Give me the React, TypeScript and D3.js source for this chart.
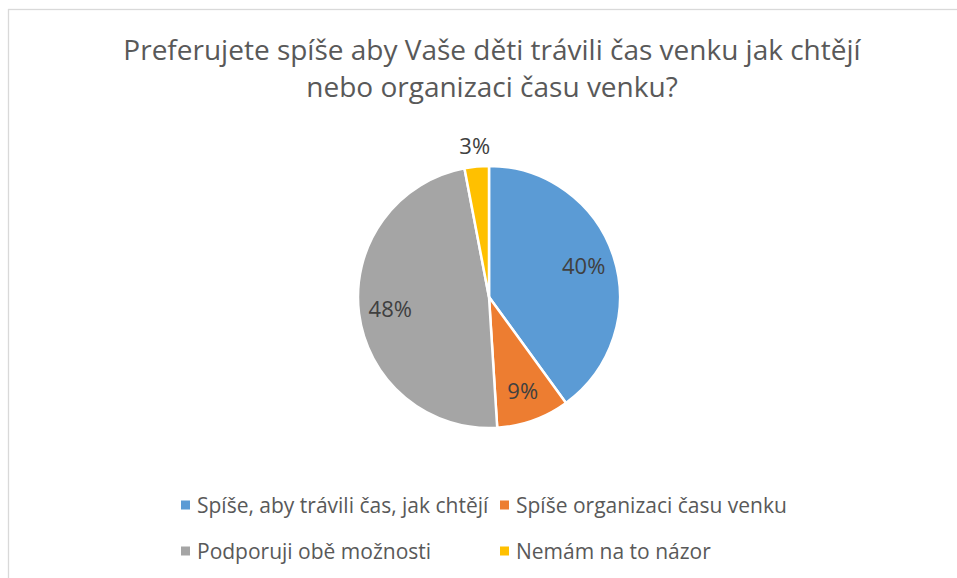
import React, { useEffect, useRef } from 'react';
import { select, pie, arc } from 'd3';

const categories = [
  'Spíše, aby trávili čas, jak chtějí',
  'Spíše organizaci času venku',
  'Podporuji obě možnosti',
  'Nemám na to názor',
];
const values = [40, 9, 48, 3];
const colors = ['#5B9BD5', '#ED7D31', '#A5A5A5', '#FFC000'];
const titleLines = [
  'Preferujete spíše aby Vaše děti trávili čas venku jak chtějí',
  'nebo organizaci času venku?',
];

const W = 957;
const H = 578;
const FONT = "'Open Sans', sans-serif";

const App: React.FC = () => {
  const svgRef = useRef<SVGSVGElement>(null);

  useEffect(() => {
    if (!svgRef.current) return;
    const svg = select(svgRef.current);
    svg.selectAll('*').remove();

    svg.append('rect').attr('width', W).attr('height', H).attr('fill', '#fff');
    // chart border (runs off the right/bottom edge like the screenshot)
    svg.append('rect')
      .attr('x', 8.5).attr('y', 9.5).attr('width', W + 10).attr('height', H + 10)
      .attr('fill', 'none').attr('stroke', '#D9D9D9').attr('stroke-width', 1.3);

    svg.selectAll('.title')
      .data(titleLines).enter().append('text')
      .attr('class', 'title')
      .attr('x', 492).attr('y', (d, i) => 60 + i * 37)
      .attr('text-anchor', 'middle')
      .attr('font-family', FONT).attr('font-size', '28px')
      .attr('fill', '#595959')
      .text(d => d);

    const cx = 489, cy = 297, radius = 131;
    const g = svg.append('g').attr('transform', `translate(${cx},${cy})`);

    const pieGen = pie<number>().sort(null).value(d => d);
    const arcs = pieGen(values);
    const arcGen = arc<any>().innerRadius(0).outerRadius(radius);
    const labelIn = arc<any>().innerRadius(radius * 0.76).outerRadius(radius * 0.76);
    const labelOut = arc<any>().innerRadius(radius * 1.16).outerRadius(radius * 1.16);

    g.selectAll('.slice')
      .data(arcs).enter().append('path')
      .attr('class', 'slice')
      .attr('d', arcGen)
      .attr('fill', (d, i) => colors[i])
      .attr('stroke', '#fff').attr('stroke-width', 2.5)
      .attr('stroke-linejoin', 'round');

    g.selectAll('.lbl')
      .data(arcs).enter().append('text')
      .attr('class', 'lbl')
      .attr('transform', d => {
        const [x, y] = (d.data < 5 ? labelOut : labelIn).centroid(d);
        return `translate(${x},${y})`;
      })
      .attr('text-anchor', 'middle').attr('dy', '0.36em')
      .attr('font-family', FONT).attr('font-size', '22px')
      .attr('fill', '#404040')
      .text(d => `${Math.round(d.data)}%`);

    // legend: two columns, two rows
    const colX = [181, 500];
    const rowY = [505, 551];
    const leg = svg.selectAll('.leg')
      .data(categories).enter().append('g')
      .attr('class', 'leg')
      .attr('transform', (d, i) => `translate(${colX[i % 2]},${rowY[Math.floor(i / 2)]})`);
    leg.append('rect')
      .attr('x', 0).attr('y', -4.5).attr('width', 9).attr('height', 9)
      .attr('fill', (d, i) => colors[i]);
    leg.append('text')
      .attr('x', 16).attr('dy', '0.36em')
      .attr('font-family', FONT).attr('font-size', '21px')
      .attr('fill', '#595959')
      .text(d => d);
  }, []);

  return (
    <svg ref={svgRef} width={W} height={H} viewBox={`0 0 ${W} ${H}`}
      style={{ position: 'absolute', left: 0, top: 0, display: 'block' }} />
  );
};

export default App;
